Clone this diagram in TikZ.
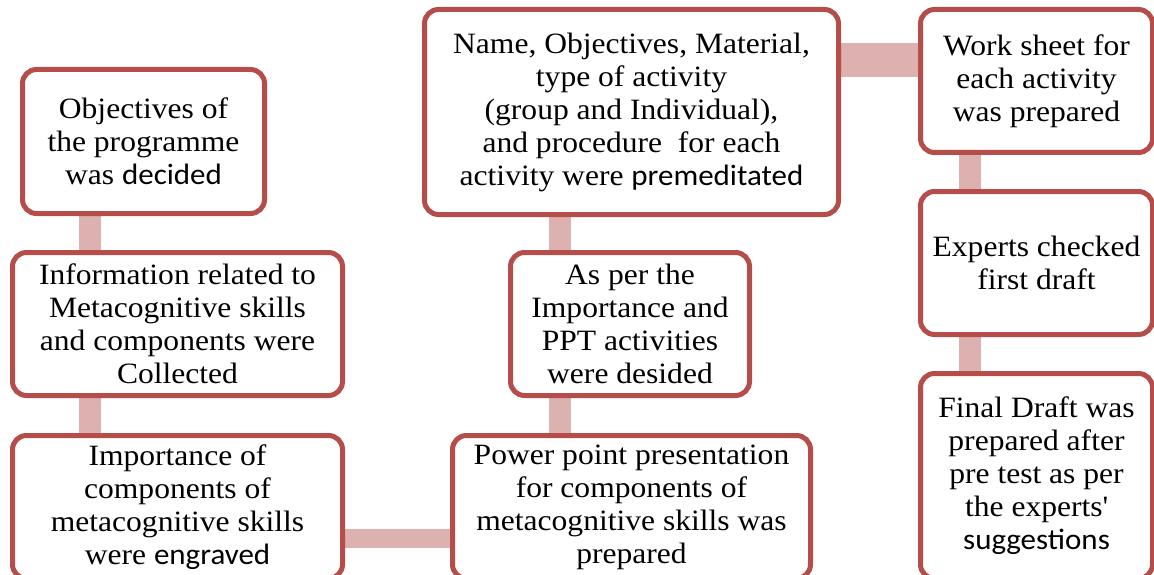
\documentclass[tikz,border=0pt]{standalone}
\usepackage{fontspec}
\setmainfont{Liberation Serif}[FakeStretch=1.07]
\newfontfamily\calibri{Carlito}[FakeStretch=1.05]
\definecolor{boxred}{HTML}{B54E4A}
\definecolor{linkpink}{HTML}{DDB1B0}
\pgfdeclarelayer{bg}
\pgfsetlayers{bg,main}
\begin{document}
\begin{tikzpicture}[x=1pt,y=-1pt,
  stepbox/.style={draw=boxred, line width=5pt, fill=white, rounded corners=14pt,
    inner sep=0pt, align=center, font={\fontsize{29.5}{33}\selectfont}},
  link/.style={draw=linkpink, line width=#1, line cap=butt},
  link/.default=22pt]
\clip (0,0) rectangle (1154,575);

% left column
\node[stepbox, minimum width=242pt, minimum height=144pt] (obj) at (143.5,141.5)
  {Objectives of\\the programme\\was {\calibri decided}};
\node[stepbox, minimum width=330pt, minimum height=143pt] (info) at (177.5,324)
  {Information related to\\Metacognitive skills\\and components were\\Collected};
\node[stepbox, minimum width=330pt, minimum height=143pt] (imp) at (177.5,507)
  {Importance of\\components of\\metacognitive skills\\were {\calibri engraved}};

% middle column
\node[stepbox, minimum width=358pt, minimum height=143pt] (ppt) at (631.5,507)
  {Power point presentation\\for components of\\metacognitive skills was\\prepared};
\node[stepbox, minimum width=239pt, minimum height=143pt] (asper) at (630,324)
  {As per the\\Importance and\\PPT activities\\were desided};
\node[stepbox, minimum width=414pt, minimum height=205pt] (name) at (631.5,112)
  {Name, Objectives, Material,\\type of activity\\(group and Individual),\\and procedure\ \ for each\\activity were {\calibri premeditated}};

% right column
\node[stepbox, minimum width=232pt, minimum height=143pt] (sheet) at (1036.5,81)
  {Work sheet for\\each activity\\was prepared};
\node[stepbox, minimum width=232pt, minimum height=143pt] (check) at (1036.5,263)
  {Experts checked\\first draft};
\node[stepbox, minimum width=232pt, minimum height=205pt] (final) at (1036.5,476)
  {Final Draft was\\prepared after\\pre test as per\\the experts\textquotesingle\\{\calibri suggestions}};

% connector tracks
\coordinate (lx) at (90,0);
\coordinate (mx) at (560,0);
\coordinate (rx) at (970,0);
\coordinate (by) at (0,538.5);
\coordinate (ty) at (0,60);

\begin{pgfonlayer}{bg}
  \draw[link] (obj.south -| lx) -- (info.north -| lx);
  \draw[link] (info.south -| lx) -- (imp.north -| lx);
  \draw[link=19pt] (imp.east |- by) -- (ppt.west |- by);
  \draw[link] (ppt.north -| mx) -- (asper.south -| mx);
  \draw[link] (asper.north -| mx) -- (name.south -| mx);
  \draw[link=34pt] (name.east |- ty) -- (sheet.west |- ty);
  \draw[link] (sheet.south -| rx) -- (check.north -| rx);
  \draw[link] (check.south -| rx) -- (final.north -| rx);
\end{pgfonlayer}
\end{tikzpicture}
\end{document}
